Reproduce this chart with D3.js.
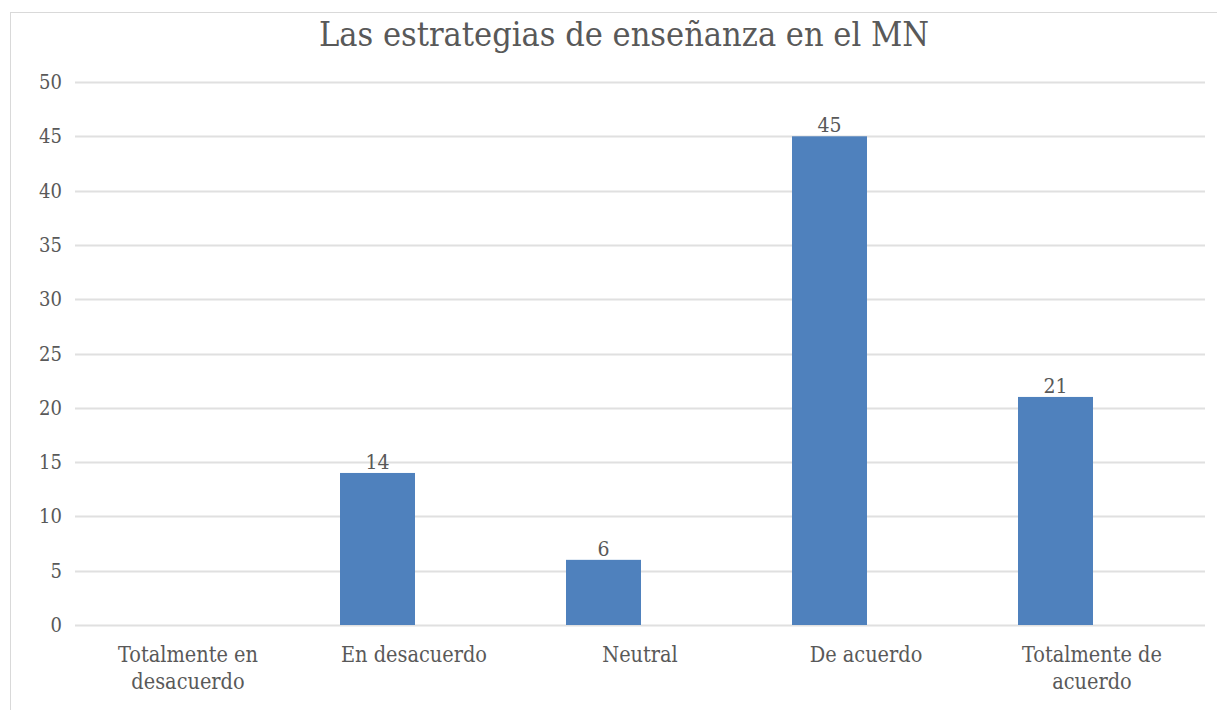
<!DOCTYPE html>
<html>
<head>
<meta charset="utf-8">
<script src="https://cdn.jsdelivr.net/npm/d3@7"></script>
<style>
  body { margin: 0; background: #fff; }
  text { font-family: "DejaVu Serif", serif; font-stretch: condensed; fill: #595959; }
</style>
</head>
<body>
<div id="chart"></div>
<script>
(function() {
    // data
    var categories = ["Totalmente en desacuerdo", "En desacuerdo", "Neutral", "De acuerdo", "Totalmente de acuerdo"];
    var values = [0, 14, 6, 45, 21];
    var yTicks = [0, 5, 10, 15, 20, 25, 30, 35, 40, 45, 50];
    var title = "Las estrategias de enseñanza en el MN";

    // label lines (word wrap as in the original)
    var labelLines = [["Totalmente en", "desacuerdo"], ["En desacuerdo"], ["Neutral"], ["De acuerdo"], ["Totalmente de", "acuerdo"]];

    var width = 1217,
        height = 710;

    var margin = {left: 75, right: 12, top: 82, bottom: 85};

    var barColor = "#4f81bd";

    var svg = d3.select("#chart")
        .append("svg")
        .attr("width", width)
        .attr("height", height);

    // outer frame
    svg.append("rect")
        .attr("x", 10.5)
        .attr("y", 12.5)
        .attr("width", width)
        .attr("height", height)
        .attr("fill", "none")
        .attr("stroke", "#d9d9d9");

    var x = d3.scaleBand()
        .domain(categories)
        .range([margin.left, width - margin.right]);

    var y = d3.scaleLinear()
        .domain([0, 50])
        .range([height - margin.bottom, margin.top]);

    // gridlines
    svg.append("g")
        .selectAll("line")
        .data(yTicks)
        .enter().append("line")
        .attr("x1", margin.left)
        .attr("x2", width - margin.right)
        .attr("y1", function(d) { return Math.round(y(d)) + 0.5; })
        .attr("y2", function(d) { return Math.round(y(d)) + 0.5; })
        .attr("stroke", "#e0e0e0")
        .attr("stroke-width", 2);

    // y tick labels
    svg.append("g")
        .selectAll("text")
        .data(yTicks)
        .enter().append("text")
        .attr("x", 62)
        .attr("y", function(d) { return y(d); })
        .attr("dy", "0.35em")
        .attr("text-anchor", "end")
        .style("font-size", "20px")
        .text(function(d) { return d; });

    // bars sit left of the band centre in the original
    var barW = 75,
        barShift = 39;

    svg.append("g")
        .selectAll("rect")
        .data(values)
        .enter().append("rect")
        .attr("x", function(d, i) { return x(categories[i]) + barShift; })
        .attr("y", function(d) { return y(d); })
        .attr("width", barW)
        .attr("height", function(d) { return y(0) - y(d); })
        .attr("fill", barColor);

    // data labels
    svg.append("g")
        .selectAll("text")
        .data(values)
        .enter().filter(function(d) { return d > 0; })
        .append("text")
        .attr("x", function(d) { return x(categories[values.indexOf(d)]) + barShift + barW / 2; })
        .attr("y", function(d) { return y(d) - 4; })
        .attr("text-anchor", "middle")
        .style("font-size", "21px")
        .text(function(d) { return d; });

    // category labels
    var cat = svg.append("g")
        .selectAll("text")
        .data(categories)
        .enter().append("text")
        .attr("x", function(d) { return x(d) + x.bandwidth() / 2; })
        .attr("y", 662)
        .attr("text-anchor", "middle")
        .style("font-size", "21.5px");

    cat.selectAll("tspan")
        .data(function(d, i) { return labelLines[i]; })
        .enter().append("tspan")
        .attr("x", function() { return d3.select(this.parentNode).attr("x"); })
        .attr("dy", function(d, i) { return i === 0 ? 0 : 27; })
        .text(function(d) { return d; });

    // title
    svg.append("text")
        .attr("x", 624)
        .attr("y", 46)
        .attr("text-anchor", "middle")
        .style("font-size", "34px")
        .text(title);
})();
</script>
</body>
</html>
